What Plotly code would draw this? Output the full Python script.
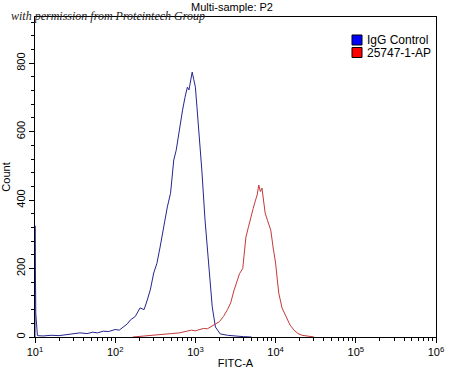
import plotly.graph_objects as go

# --- data (log10 of FITC-A, count) ---
igg_log = [1.0, 1.0, 1.01, 1.03, 1.1, 1.2, 1.3, 1.4, 1.5, 1.56, 1.65, 1.72, 1.78, 1.85, 1.92,
           2.0, 2.05, 2.1, 2.15, 2.19, 2.25, 2.31, 2.36, 2.4, 2.44, 2.48, 2.52, 2.56, 2.6,
           2.65, 2.69, 2.73, 2.76, 2.79, 2.81, 2.84, 2.87, 2.9, 2.92, 2.94, 2.96, 2.98,
           3.0, 3.02, 3.04, 3.08, 3.12, 3.17, 3.21, 3.25, 3.31, 3.4, 3.48, 3.6, 3.7]
igg_cnt = [0, 325, 68, 4, 3, 5, 4, 7, 9, 12, 10, 14, 12, 17, 16,
           22, 20, 30, 38, 50, 60, 85, 80, 108, 140, 187, 215, 263, 320,
           380, 420, 517, 545, 595, 620, 663, 700, 730, 722, 750, 774, 752,
           730, 670, 613, 488, 342, 204, 88, 29, 9, 5, 3, 1, 0]

ap_log = [2.22, 2.3, 2.4, 2.5, 2.6, 2.7, 2.8, 2.9, 2.95, 3.0, 3.05, 3.1, 3.15, 3.2, 3.25,
          3.3, 3.35, 3.4, 3.44, 3.48, 3.52, 3.55, 3.59, 3.61, 3.63, 3.66, 3.69, 3.72, 3.75,
          3.77, 3.79, 3.81, 3.83, 3.85, 3.87, 3.9, 3.94, 3.97, 4.0, 4.02, 4.04, 4.08, 4.13,
          4.18, 4.23, 4.28, 4.33, 4.4, 4.48]
ap_cnt = [0, 2, 4, 5, 8, 10, 12, 16, 20, 18, 22, 25, 24, 32, 38,
          45, 60, 80, 100, 135, 166, 185, 200, 250, 292, 320, 350, 375, 400,
          415, 444, 425, 435, 390, 362, 340, 312, 260, 216, 170, 128, 85, 58,
          35, 20, 10, 5, 3, 0]

series_names = ["IgG Control", "25747-1-AP"]
legend_colors = ["#0000ff", "#ff0000"]
x_tick_exps = [1, 2, 3, 4, 5, 6]

igg_x = [10 ** v for v in igg_log]
ap_x = [10 ** v for v in ap_log]

L, R, T, B, W, H = 35, 14, 17, 33, 450, 370
PW, PH = W - L - R, H - T - B


def px(xp):
    return (xp - L) / PW


def py(yp):
    return (H - B - yp) / PH


fig = go.Figure()
fig.add_trace(go.Scatter(x=igg_x, y=igg_cnt, mode="lines", name=series_names[0],
                         line=dict(color="#25258f", width=1), showlegend=False, hoverinfo="skip"))
fig.add_trace(go.Scatter(x=ap_x, y=ap_cnt, mode="lines", name=series_names[1],
                         line=dict(color="#c23a3a", width=1), showlegend=False, hoverinfo="skip"))

# legend drawn as swatches + labels
for i, (name, col) in enumerate(zip(series_names, legend_colors)):
    top = 35 + i * 12.5
    fig.add_shape(type="rect", xref="paper", yref="paper",
                  x0=px(352), x1=px(362), y0=py(top + 10), y1=py(top),
                  fillcolor=col, line=dict(color="black", width=1))
    fig.add_annotation(text=name, xref="paper", yref="paper", x=px(365), y=py(top + 5),
                       xanchor="left", yanchor="middle", showarrow=False,
                       font=dict(size=12, color="black"))

minor_vals = [m * 10 ** e for e in x_tick_exps[:-1] for m in range(2, 10)]

fig.update_layout(
    width=W, height=H,
    margin=dict(l=L, r=R, t=T, b=B),
    paper_bgcolor="white", plot_bgcolor="white",
    font=dict(family="Liberation Sans, Arial, sans-serif", size=11, color="black"),
    title=dict(text="Multi-sample: P2", x=px(232), xref="paper", xanchor="center",
               y=1 - 7.5 / H, yanchor="middle", font=dict(size=11)),
    showlegend=False,
    xaxis=dict(type="log", range=[1, 6], showline=True, linecolor="black", linewidth=1,
               mirror=True, ticks="outside", ticklen=5, tickcolor="black", automargin=False,
               tickvals=[10 ** e for e in x_tick_exps],
               ticktext=["10<sup>%d</sup>" % e for e in x_tick_exps],
               showgrid=False, zeroline=False,
               minor=dict(tickvals=minor_vals, ticks="outside", ticklen=3, tickcolor="black",
                          showgrid=False),
               title=dict(text="FITC-A", standoff=2, font=dict(size=11))),
    yaxis=dict(range=[0, 935], showline=True, linecolor="black", linewidth=1, mirror=True,
               ticks="outside", ticklen=5, tickcolor="black", dtick=200, tickangle=-90,
               showgrid=False, zeroline=False, automargin=False,
               minor=dict(dtick=40, ticks="outside", ticklen=3, tickcolor="black", showgrid=False),
               title=dict(text="Count", standoff=2, font=dict(size=11))),
)

fig.add_annotation(text="<i>with permission from Proteintech Group</i>", xref="paper", yref="paper",
                   x=px(9), y=py(16), xanchor="left", yanchor="middle", showarrow=False,
                   font=dict(family="Liberation Serif, serif", size=12, color="#222222"))

fig.write_html("out.html", config={"displayModeBar": False, "staticPlot": True},
               post_script="document.body.style.margin='0';")
